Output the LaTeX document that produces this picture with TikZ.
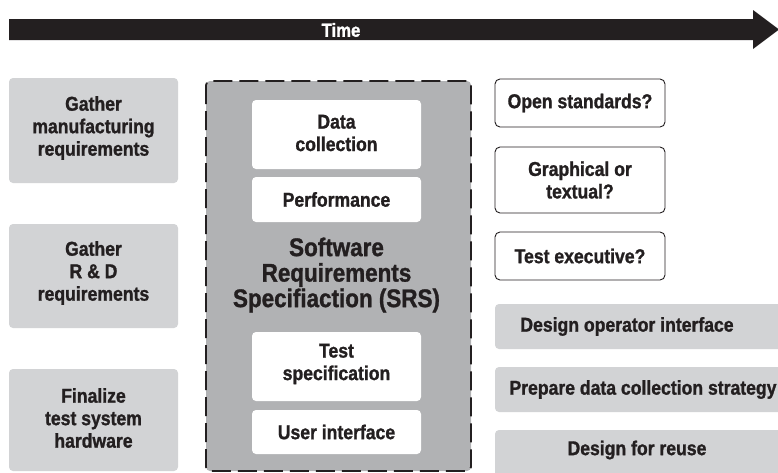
\documentclass[tikz,border=0pt]{standalone}
\usepackage{fontspec}
\setmainfont[FakeStretch=0.88, BoldFeatures={FakeBold=1.2}]{Liberation Sans}
\definecolor{ink}{HTML}{231F20}
\definecolor{lightbox}{HTML}{D2D3D5}
\definecolor{srsfill}{HTML}{B1B2B4}
\begin{document}
\begin{tikzpicture}[x=1pt,y=-1pt,
  lbl/.style={font=\bfseries\fontsize{20}{22.5}\selectfont, text=ink, align=center, inner sep=0pt},
  big/.style={font=\bfseries\fontsize{25.5}{25.5}\selectfont, text=ink, align=center, inner sep=0pt},
  graybox/.style={fill=lightbox, rounded corners=4pt},
  whitebox/.style={fill=white, rounded corners=4pt},
  qbox/.style={draw=ink, line width=0.9pt, fill=white, rounded corners=5pt}
]
\useasboundingbox (0,0) rectangle (778,472);
\fill[white] (0,0) rectangle (778,472);

% time arrow
\fill[ink] (9,19) -- (753,19) -- (753,10) -- (779,29.5) -- (753,49) -- (753,40) -- (9,40) -- cycle;
\node[font=\bfseries\fontsize{19}{20}\selectfont, text=white, inner sep=0pt] (time) at (341,30) {Time};

% left column
\fill[graybox] (9,78) rectangle (178,183);
\node[lbl] (g1) at (93.5,128) {Gather\\manufacturing\\requirements};
\fill[graybox] (9,224) rectangle (178,328);
\node[lbl] (g2) at (93.5,273) {Gather\\R \& D\\requirements};
\fill[graybox] (9,369) rectangle (178,471);
\node[lbl] (g3) at (93.5,418) {Finalize\\test system\\hardware};

% SRS container
\draw[ink, line width=1.8pt, dash pattern=on 19pt off 7pt, fill=srsfill, rounded corners=4pt] (206,81) rectangle (471,471);
\fill[whitebox] (252,100) rectangle (421,169);
\node[lbl] (dc) at (336.5,133) {Data\\collection};
\fill[whitebox] (252,177) rectangle (421,222);
\node[lbl] (perf) at (336.5,199.5) {Performance};
\node[big] (srs) at (336.5,275) {Software\\Requirements\\Specifiaction (SRS)};
\fill[whitebox] (252,332) rectangle (421,401);
\node[lbl] (ts) at (336.5,364) {Test\\specification};
\fill[whitebox] (252,410) rectangle (421,454);
\node[lbl] (ui) at (336.5,432) {User interface};

% right column questions
\draw[qbox] (495,79) rectangle (665,127);
\node[lbl] (os) at (580,103) {Open standards?};
\draw[qbox] (495,147) rectangle (665,213);
\node[lbl] (gt) at (580,180) {Graphical or\\textual?};
\draw[qbox] (495,232) rectangle (665,280);
\node[lbl] (te) at (580,256) {Test executive?};

% right column tasks
\fill[graybox] (495,304) rectangle (800,349);
\node[lbl] (doi) at (627,326.5) {Design operator interface};
\fill[graybox] (495,367) rectangle (800,412);
\node[lbl] (pdc) at (643,389.5) {Prepare data collection strategy};
\fill[graybox] (495,430) rectangle (800,490);
\node[lbl] (dfr) at (637,450) {Design for reuse};
\end{tikzpicture}
\end{document}
